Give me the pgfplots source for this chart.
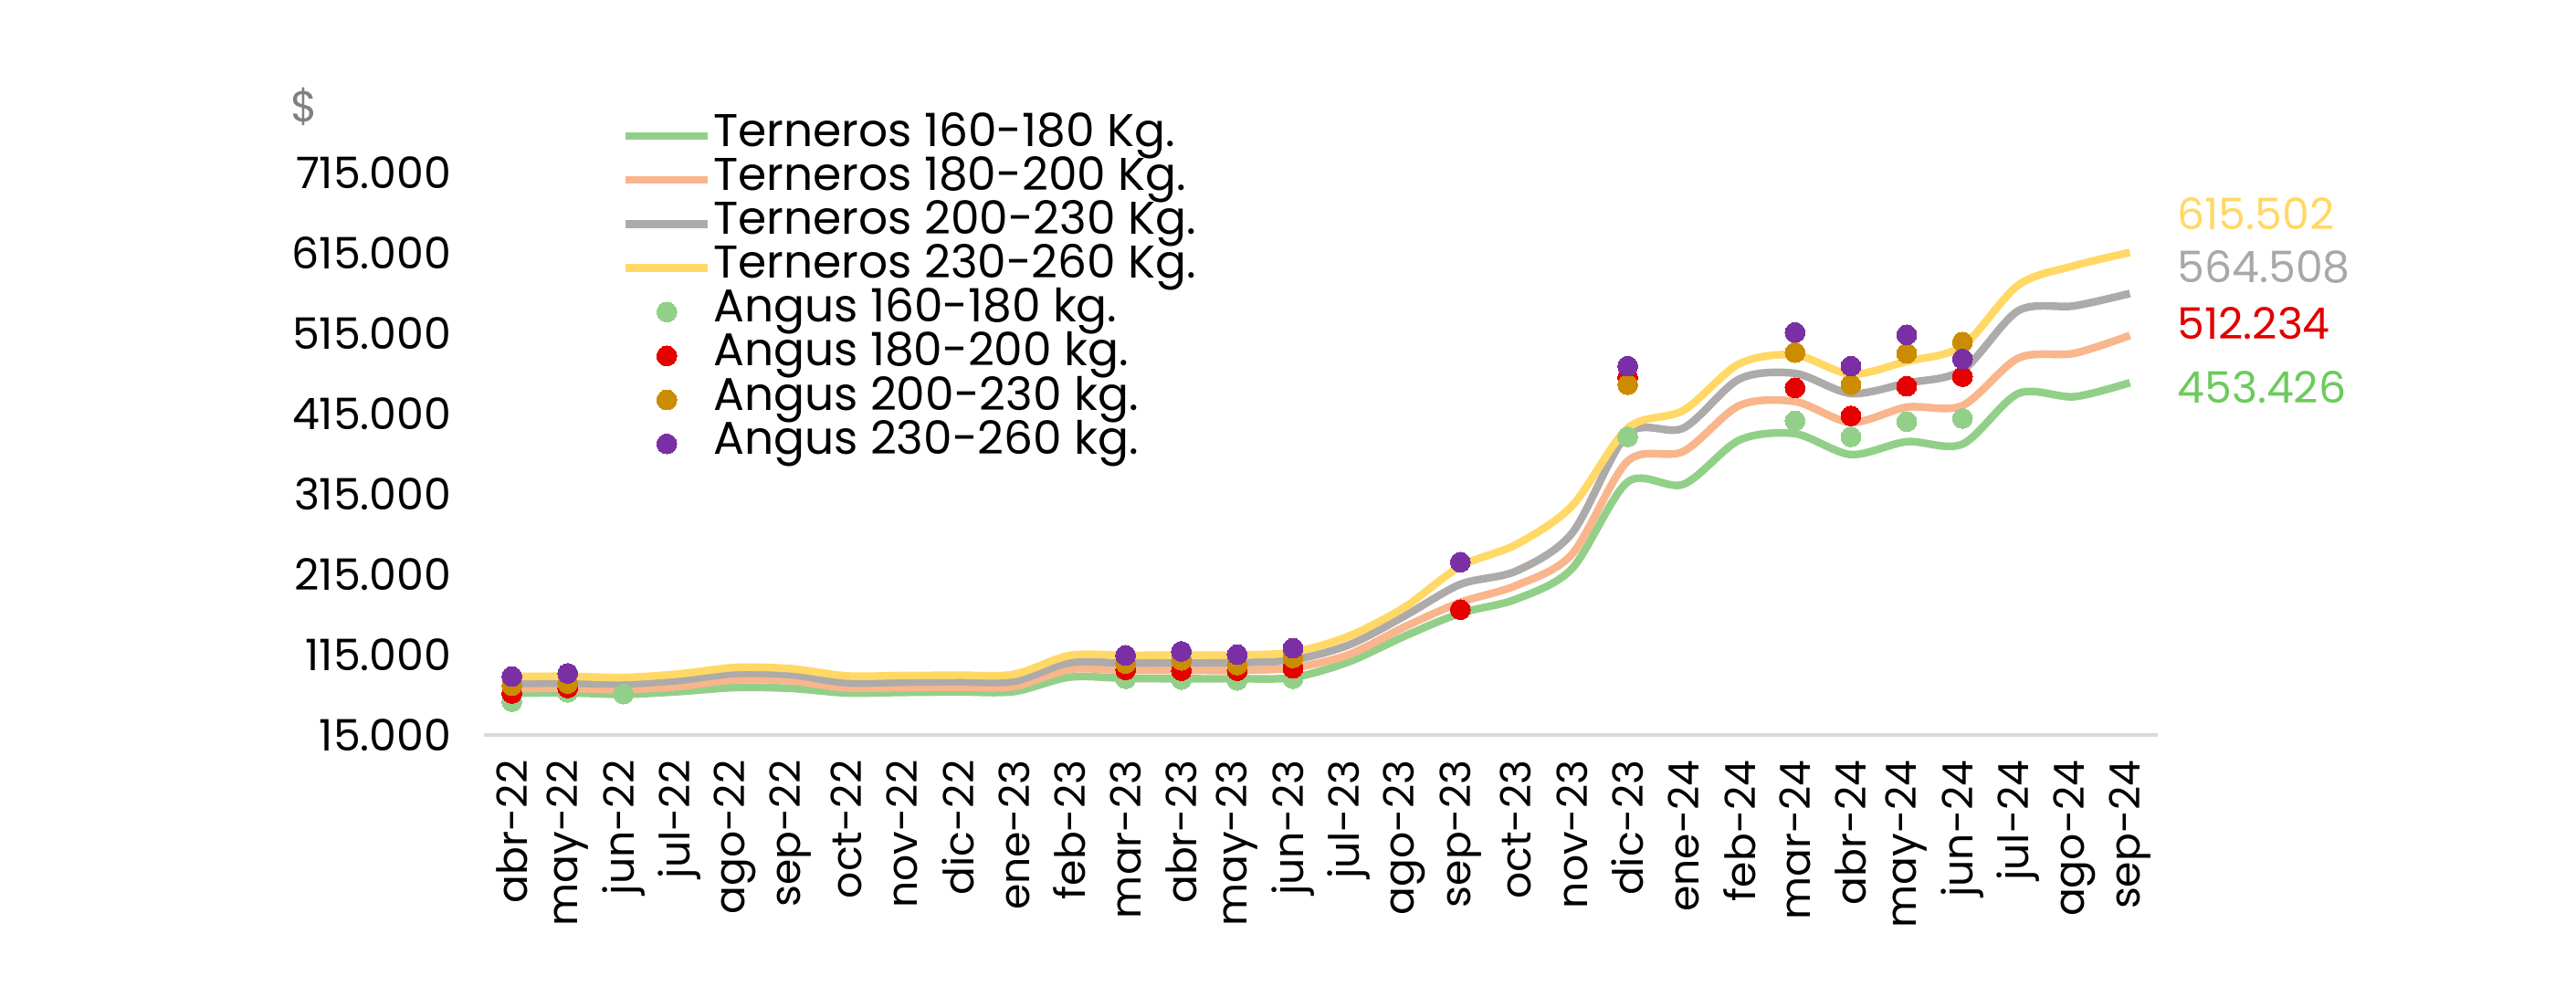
\documentclass[border=0pt]{standalone}
\usepackage{fontspec}
\setmainfont{Poppins}
\usepackage{pgfplots}
\usepackage{pgfplotstable}
\pgfplotsset{compat=1.18}
\definecolor{lgreen}{HTML}{92D08A}
\definecolor{lorange}{HTML}{F9B58C}
\definecolor{lgray}{HTML}{ADAAAA}
\definecolor{lyellow}{HTML}{FFD866}
\definecolor{dred}{HTML}{E60000}
\definecolor{dgold}{HTML}{CC8C00}
\definecolor{dpurple}{HTML}{7B2FA5}
\definecolor{tgreen}{HTML}{6BCB5B}
\definecolor{tred}{HTML}{E00000}
\definecolor{tgray}{HTML}{A8A8A8}
\definecolor{axgray}{HTML}{D9D9D9}

\pgfplotstableread{
i  yel    gra    ora    gre
0  87800  79200  72700  66700
1  88000  79500  73000  67500
2  86500  78500  71500  65500
3  91000  83000  75500  69000
4  99000  91500  83500  74000
5  97500  90000  82500  73000
6  88500  80000  73500  67300
7  89000  80800  74000  68000
8  89400  81300  74500  68600
9  90500  82000  75300  69000
10 114000 105000 96500  87000
11 114000 104500 95500  85500
12 114500 105000 95500  85000
13 114500 105000 95500  85000
14 118000 108500 98500  86500
15 138000 127000 115000 106000
16 174000 163000 149500 138000
17 225000 202500 180000 166500
18 252000 219000 201000 184000
19 300000 266000 240000 222000
20 397000 390000 356000 330000
21 419000 397000 368000 327000
22 477000 458000 425000 382000
23 488000 465000 430000 390000
24 464000 440000 404000 364000
25 480000 453000 423000 380000
26 499000 469000 425000 377000
27 575000 543000 484000 440000
28 599000 549000 490000 436000
29 615502 564508 512234 453426
}\lines

\pgfplotstableread{
i  v
0  56500
1  68000
2  66000
11 85000
12 84000
13 83000
14 85000
20 386000
23 406000
24 386000
25 405000
26 409000
}\agreen

\pgfplotstableread{
i  v
0  66700
1  73500
11 96000
12 95000
13 95000
14 98000
17 171000
20 460000
23 447000
24 412000
25 449000
26 461000
}\ared

\pgfplotstableread{
i  v
0  76500
1  79000
11 104000
12 108000
13 102000
14 111000
20 451000
23 491000
24 451000
25 490000
26 504000
}\agold

\pgfplotstableread{
i  v
0  87800
1  91600
11 114000
12 119000
13 115000
14 123000
17 230000
20 474000
23 516000
24 474000
25 513000
26 483000
}\apurple

\begin{document}
\begin{tikzpicture}
\useasboundingbox (-5.30cm,-2.87cm) rectangle (22.91cm,8.05cm);
\begin{axis}[
  at={(0,0)}, anchor=south west,
  scale only axis, width=18.33cm, height=6.16cm,
  xmin=-0.5, xmax=29.5, ymin=15000, ymax=715000,
  clip=false,
  scaled y ticks=false,
  axis line style={draw=none},
  tick style={draw=none},
  font=\fontsize{13.5}{15}\selectfont,
  xtick={0,...,29},
  xticklabels={abr-22,may-22,jun-22,jul-22,ago-22,sep-22,oct-22,nov-22,dic-22,ene-23,feb-23,mar-23,abr-23,may-23,jun-23,jul-23,ago-23,sep-23,oct-23,nov-23,dic-23,ene-24,feb-24,mar-24,abr-24,may-24,jun-24,jul-24,ago-24,sep-24},
  x tick label style={yshift=-0.27cm, rotate=90, anchor=east, inner sep=0pt, font=\fontsize{13}{15}\selectfont},
  ytick={15000,115000,215000,315000,415000,515000,615000,715000},
  yticklabels={15.000,115.000,215.000,315.000,415.000,515.000,615.000,715.000},
  y tick label style={xshift=-0.35cm, anchor=east, inner sep=0pt},
  legend style={at={(0.082,1.105)}, anchor=north west, draw=none, fill=none,
    inner sep=0pt, row sep=0pt, font=\fontsize{14.3}{15}\selectfont,
    nodes={inner sep=0.5pt, text height=9.5pt, text depth=3.2pt}},
  legend cell align=left,
  legend image code/.code={\draw[mark repeat=2,mark phase=2,#1] plot coordinates {(0cm,0cm) (0.45cm,0cm) (0.9cm,0cm)};},
]
\draw[axgray, line width=1.3pt] (axis cs:-0.5,15000) -- (axis cs:29.5,15000);
\addplot[lgreen, line width=2.4pt, smooth, tension=0.5] table[x=i,y=gre] {\lines};
\addlegendentry{Terneros 160-180 Kg.}
\addplot[lorange, line width=2.4pt, smooth, tension=0.5] table[x=i,y=ora] {\lines};
\addlegendentry{Terneros 180-200 Kg.}
\addplot[lgray, line width=2.4pt, smooth, tension=0.5] table[x=i,y=gra] {\lines};
\addlegendentry{Terneros 200-230 Kg.}
\addplot[lyellow, line width=2.4pt, smooth, tension=0.5] table[x=i,y=yel] {\lines};
\addlegendentry{Terneros 230-260 Kg.}
\addplot[lgreen, only marks, mark=*, mark size=3.1pt, mark options={draw=lgreen, fill=lgreen, line width=0pt}] table[x=i,y=v] {\agreen};
\addlegendentry{Angus 160-180 kg.}
\addplot[dred, only marks, mark=*, mark size=3.1pt, mark options={draw=dred, fill=dred, line width=0pt}] table[x=i,y=v] {\ared};
\addlegendentry{Angus 180-200 kg.}
\addplot[dgold, only marks, mark=*, mark size=3.1pt, mark options={draw=dgold, fill=dgold, line width=0pt}] table[x=i,y=v] {\agold};
\addlegendentry{Angus 200-230 kg.}
\addplot[dpurple, only marks, mark=*, mark size=3.1pt, mark options={draw=dpurple, fill=dpurple, line width=0pt}] table[x=i,y=v] {\apurple};
\addlegendentry{Angus 230-260 kg.}
\node[anchor=west, inner sep=0pt, text=lyellow] at (axis cs:29.84,664000) {615.502};
\node[anchor=west, inner sep=0pt, text=tgray] at (axis cs:29.84,597000) {564.508};
\node[anchor=west, inner sep=0pt, text=tred] at (axis cs:29.84,527500) {512.234};
\node[anchor=west, inner sep=0pt, text=tgreen] at (axis cs:29.84,448000) {453.426};
\node[text=gray, inner sep=0pt] at (axis cs:-3.72,797000) {\$};
\end{axis}
\end{tikzpicture}
\end{document}
